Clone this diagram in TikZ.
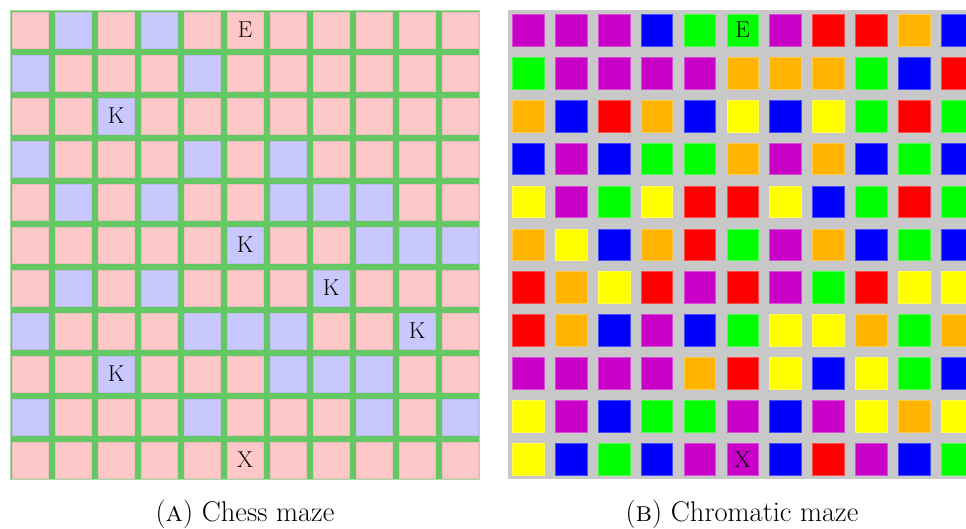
\documentclass[tikz,border=0pt]{standalone}
\usepackage{tikz}
\definecolor{lP}{RGB}{255,200,200}
\definecolor{lB}{RGB}{200,200,255}
\definecolor{lGreen}{RGB}{100,200,100}
\definecolor{gGray}{RGB}{200,200,200}
\definecolor{gM}{RGB}{200,0,200}
\definecolor{gB}{RGB}{0,0,255}
\definecolor{gG}{RGB}{0,255,0}
\definecolor{gR}{RGB}{255,0,0}
\definecolor{gO}{RGB}{255,180,0}
\definecolor{gY}{RGB}{255,255,0}
\tikzset{
  cellL/.style={rectangle, inner sep=0pt, outer sep=0pt, minimum width=36.4pt, minimum height=36pt, anchor=north west, line width=0.6pt},
  cellR/.style={rectangle, inner sep=0pt, outer sep=0pt, minimum width=31.7pt, minimum height=31.7pt, anchor=north west, line width=0.6pt},
  mark letter/.style={inner sep=0pt, font=\fontsize{23}{23}\selectfont, text=black},
  caption/.style={anchor=base, font=\fontsize{28.5}{30}\selectfont}
}
\begin{document}
\begin{tikzpicture}[x=1pt,y=-1pt]
\useasboundingbox (0,0) rectangle (966,528);
\fill[white] (0,0) rectangle (966,528);
% ---------- left grid: chess maze ----------
\fill[lGreen] (10,10) rectangle (480,480);
\draw[lGreen!60!white, line width=0.8pt] (10.4,10.4) rectangle (479.6,479.6);
\foreach \row [count=\j from 0] in {
  {P,B,P,B,P,P,P,P,P,P,P},
  {B,P,P,P,B,P,P,P,P,P,P},
  {P,P,B,P,P,P,P,P,P,P,P},
  {B,P,P,P,B,P,B,P,P,P,P},
  {P,B,P,B,P,P,B,B,B,P,P},
  {P,P,P,P,P,B,P,P,B,B,B},
  {P,B,P,B,P,P,P,B,P,P,P},
  {B,P,P,P,B,B,B,P,P,B,P},
  {P,P,B,P,P,P,B,B,B,P,P},
  {B,P,P,P,B,P,P,P,B,P,B},
  {P,P,P,P,P,P,P,P,P,P,P}} {
  \foreach \c [count=\i from 0] in \row {
    \node[cellL, fill=l\c, draw=l\c!85!gray] (L-\i-\j) at ({11.9+43*\i},{11.9+43*\j}) {};
  }
}
\node[mark letter] (lE) at (L-5-0) {E};
\node[mark letter] (lK1) at (L-2-2) {K};
\node[mark letter] (lK2) at (L-5-5) {K};
\node[mark letter] (lK3) at (L-7-6) {K};
\node[mark letter] (lK4) at (L-9-7) {K};
\node[mark letter] (lK5) at (L-2-8) {K};
\node[mark letter] (lX) at (L-5-10) {X};
% ---------- right grid: chromatic maze ----------
\begin{scope}
\clip (0,0) rectangle (966,528);
\fill[gGray] (508,10) rectangle (977,479);
\foreach \row [count=\j from 0] in {
  {M,M,M,B,G,G,M,R,R,O,B},
  {G,M,M,M,M,O,O,O,G,B,R},
  {O,B,R,O,B,Y,B,Y,G,R,G},
  {B,M,B,G,G,O,M,O,B,G,B},
  {Y,M,G,Y,R,R,Y,B,G,R,G},
  {O,Y,B,O,R,G,M,O,B,G,B},
  {R,O,Y,R,M,R,M,G,R,Y,Y},
  {R,O,B,M,B,G,Y,Y,O,G,O},
  {M,M,M,M,O,R,Y,B,Y,G,B},
  {Y,M,B,G,G,M,B,M,Y,O,Y},
  {Y,B,G,B,M,M,B,R,M,B,G}} {
  \foreach \c [count=\i from 0] in \row {
    \node[cellR, fill=g\c, draw=g\c!70!white] (R-\i-\j) at ({512.3+42.9*\i},{14.3+42.9*\j}) {};
  }
}
\end{scope}
\node[mark letter] (rE) at (R-5-0) {E};
\node[mark letter] (rX) at (R-5-10) {X};
% ---------- captions ----------
\node[caption] (capA) at (245,521) {(\textsc{a}) Chess maze};
\node[caption] (capB) at (742,521) {(\textsc{b}) Chromatic maze};
\end{tikzpicture}
\end{document}
